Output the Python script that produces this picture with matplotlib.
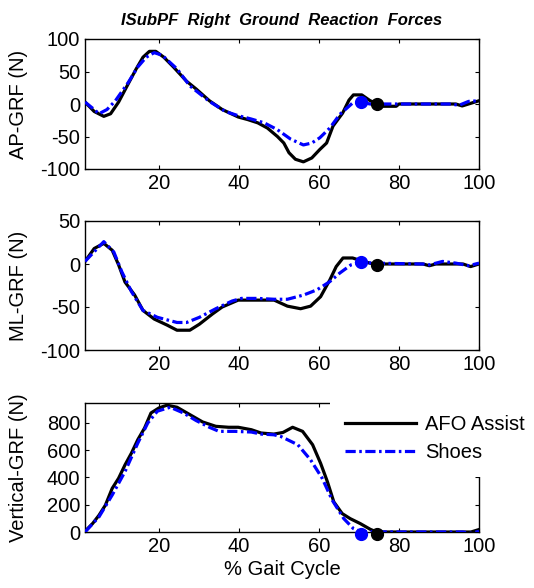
import matplotlib
matplotlib.use("Agg")
import matplotlib.pyplot as plt
import matplotlib as mpl

mpl.rcParams.update({
    "font.family": ["Liberation Sans", "DejaVu Sans"],
    "font.size": 14.5,
    "axes.unicode_minus": False,
    "xtick.direction": "in",
    "ytick.direction": "in",
    "xtick.top": True,
    "ytick.right": True,
    "xtick.major.size": 3,
    "ytick.major.size": 3,
    "axes.linewidth": 1.0,
})

# ===== data =====
# AP ground reaction force
x_ap_afo = [1.5, 3.8, 6.2, 7.9, 9.9, 12.3, 14.3, 16, 17.6, 19.2, 21.2, 23.6, 26.9, 29.3,
            32.6, 35.8, 39.8, 42.2, 44.7, 47.1, 49.6, 51.2, 52.5, 54.1, 56.1, 58.2, 60.2,
            61.9, 63.5, 65.9, 67.5, 68.6, 70.7, 72.8, 74.4, 76, 79.3, 80, 94.2, 95.8, 97.9, 100]
ap_afo = [3, -11.5, -19, -15, 3, 31, 54, 72, 81, 81, 72, 57, 35, 23,
          5, -8.5, -20, -24, -29, -37, -50, -60, -75, -85, -89, -83, -70,
          -60, -34, -14, 6, 14, 14, 5, 1, -3.5, -3.5, 0, 0, -3, 1, 5]
x_ap_shoes = [1.5, 3.8, 5, 7, 9.1, 12.3, 14.7, 16.8, 18.8, 20.8, 24.5, 27.7, 32.6, 36.6,
              39.8, 43, 46.3, 49.6, 52.9, 56.1, 58.2, 60.2, 62.7, 65.2, 68.4, 70.5, 72.8,
              80, 93, 95, 97.4, 100]
ap_shoes = [3, -8.5, -15, -8.5, 5, 33, 57, 72, 79, 75, 54, 28, 4, -11.5,
            -18, -23, -29, -39.5, -54, -63, -60, -52, -37, -16, 1.5, 2.5, 0,
            0, 0, -2, 4, 5]

# ML ground reaction force
x_ml_afo = [1.5, 3.8, 6.2, 8.3, 9.9, 11.5, 13.9, 16, 18.8, 22, 24.5, 27.7, 30.1, 33.4,
            35.8, 39.8, 44, 48.8, 52.1, 55.4, 57.9, 60.4, 62.7, 64.3, 66, 68.4, 71.1,
            74.4, 76, 86, 87.6, 89.2, 96, 97.9, 100]
ml_afo = [3, 18, 24, 16, -1, -21, -36, -54, -64, -71, -77, -77, -70, -58,
          -50, -42, -42, -42, -49, -52, -49, -38, -18.6, -3, 7, 7, 3,
          -1, 0, 0, -2, 0, 0, -3, 0]
x_ml_shoes = [1.5, 6.2, 8.7, 10.7, 13.1, 16, 19.6, 24.5, 26.9, 30.1, 34.2, 38.3, 40.6,
              44.7, 48.8, 52.1, 56.2, 59.5, 62.7, 65.2, 68, 70.5, 73.6, 86, 87.6, 90.9,
              94.2, 97.4, 100]
ml_shoes = [3, 26, 14, -9, -32, -54, -62, -68, -68, -62, -52, -43, -40,
            -40, -41, -41, -36, -30, -20.5, -10.5, -1, 2, 1, 0, -1, 3,
            1, -2, 1]

# Vertical ground reaction force
x_v_afo = [1.5, 3.4, 5, 6.6, 8.3, 9.9, 11.5, 13.1, 14.7, 16.4, 18, 20, 22, 24.5, 27.7,
           30.9, 34.2, 37.4, 39.8, 43.1, 45.5, 48.7, 51, 53.4, 55.9, 58.4, 60.4, 62.1,
           63.7, 65.8, 67.8, 70.3, 72.8, 74.4, 98, 100]
v_afo = [5, 62, 123, 197, 320, 394, 492, 578, 677, 763, 873, 910, 930, 915, 861,
         807, 775, 768, 768, 750, 726, 718, 730, 768, 738, 640, 504, 369,
         221, 135, 98, 62, 20, 0, 0, 18]
x_v_shoes = [1.5, 5, 8.3, 11.5, 14.7, 17.2, 19.6, 22.8, 26.1, 29.3, 32.6, 35, 39, 43.1,
             45.5, 48.7, 50.5, 54.7, 57.9, 60.8, 63.3, 66.2, 68.6, 70.5, 80, 96, 98, 100]
v_shoes = [0, 111, 271, 443, 652, 800, 886, 915, 873, 817, 768, 738, 738, 733,
           718, 713, 700, 640, 529, 394, 234, 98, 25, 2, 0, 0, -10, 5]

# toe-off markers: (x, y) per panel
to_afo_x = 74.5
to_shoes_x = 70.5
to_afo_y = [0, -1, -15]
to_shoes_y = [2.5, 2, -12]

# ===== figure =====
fig = plt.figure(figsize=(5.34, 5.88), dpi=100)
left, width = 85 / 534, 394 / 534
ax1 = fig.add_axes([left, 1 - 169 / 588, width, 130 / 588])
ax2 = fig.add_axes([left, 1 - 350 / 588, width, 129 / 588])
ax3 = fig.add_axes([left, 1 - 532 / 588, width, 129 / 588])

dashdot = (0, (3.2, 1.1, 0.8, 1.1))
panels = [
    (ax1, x_ap_afo, ap_afo, x_ap_shoes, ap_shoes, (-100, 100), [-100, -50, 0, 50, 100], "AP-GRF (N)"),
    (ax2, x_ml_afo, ml_afo, x_ml_shoes, ml_shoes, (-100, 50), [-100, -50, 0, 50], "ML-GRF (N)"),
    (ax3, x_v_afo, v_afo, x_v_shoes, v_shoes, (0, 946), [0, 200, 400, 600, 800], "Vertical-GRF (N)"),
]

for i, (ax, xa, ya, xs, ys, ylim, yticks, ylabel) in enumerate(panels):
    ax.plot(xa, ya, color="black", lw=2.3, label="AFO Assist", zorder=3)
    ax.plot(xs, ys, color="blue", lw=2.3, linestyle=dashdot, label="Shoes", zorder=4)
    ax.plot([to_shoes_x], [to_shoes_y[i]], "o", color="blue", ms=8.5, clip_on=False, zorder=5)
    ax.plot([to_afo_x], [to_afo_y[i]], "o", color="black", ms=8.5, clip_on=False, zorder=5)
    ax.set_xlim(1.5, 100)
    ax.set_ylim(*ylim)
    ax.set_xticks([20, 40, 60, 80, 100])
    ax.set_yticks(yticks)
    ax.set_ylabel(ylabel)
    ax.yaxis.set_label_coords(-0.145, 0.5)

ax1.set_title("ISubPF  Right  Ground  Reaction  Forces", fontsize=12, fontweight="bold",
              fontstyle="italic", pad=10)
ax3.set_xlabel("% Gait Cycle", labelpad=3)

leg = ax3.legend(loc="upper left", bbox_to_anchor=(330 / 534, 1 - 400 / 588),
                 bbox_transform=fig.transFigure, frameon=True, fancybox=False,
                 edgecolor="none", facecolor="white", framealpha=1,
                 handlelength=3.5, handletextpad=0.45, labelspacing=0.45,
                 borderpad=0.75, borderaxespad=0)
leg.set_zorder(10)

fig.savefig("out.png", dpi=100)
